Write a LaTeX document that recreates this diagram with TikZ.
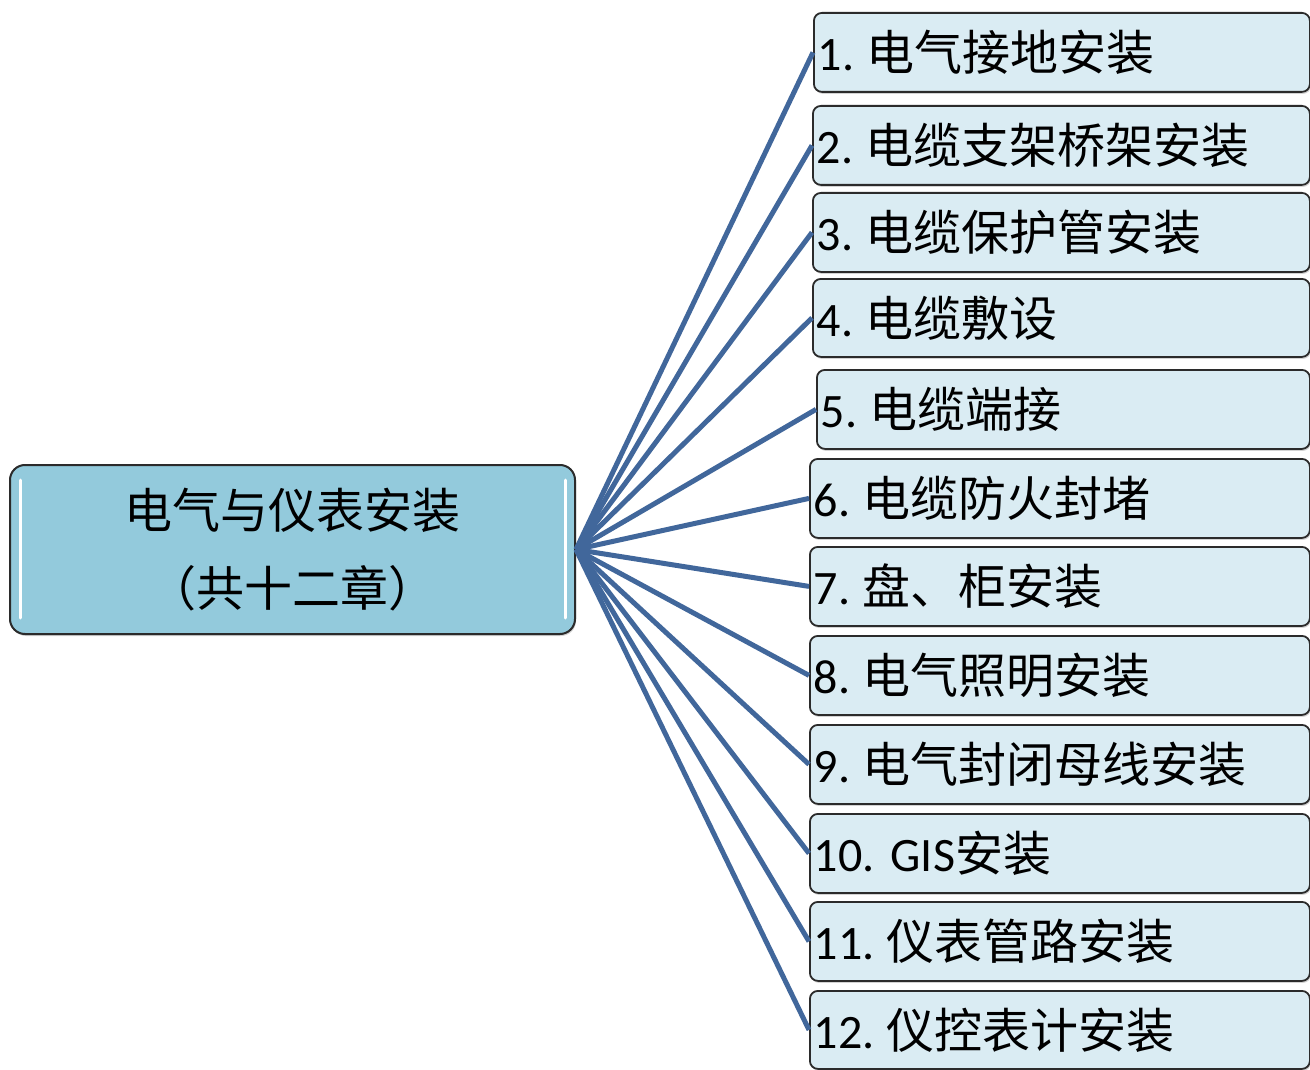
\documentclass[tikz,border=0pt]{standalone}
\usepackage{fontspec}
\setmainfont{Carlito}
\newfontfamily\cjk{Noto Sans CJK SC}
\usetikzlibrary{shadows}
\definecolor{connblue}{HTML}{41679B}
\definecolor{mainfill}{HTML}{93CADC}
\definecolor{itemfill}{HTML}{DAECF3}
\definecolor{edgegray}{HTML}{2B2B2B}
\newcommand\cjkgap{\hspace{12pt}}
\frenchspacing
\tikzset{
  mainbox/.style={draw=edgegray, line width=2pt, fill=mainfill, rounded corners=15pt,
    drop shadow={shadow xshift=1pt, shadow yshift=-2pt, opacity=0.35},
    font=\cjk\fontsize{48}{78}\selectfont, align=center, inner sep=0pt},
  itembox/.style={draw=edgegray, line width=1.8pt, fill=itemfill, rounded corners=8pt,
    drop shadow={shadow xshift=1pt, shadow yshift=-2pt, opacity=0.35},
    font=\frenchspacing\fontsize{48}{50}\selectfont, align=left, inner xsep=4pt, inner ysep=0pt},
  conn/.style={draw=connblue, line width=5pt},
  gleam/.style={draw=white, line width=3pt, line cap=round}
}
\begin{document}
\begin{tikzpicture}[x=1pt,y=-1pt]
\useasboundingbox (0,0) rectangle (1310,1070);
\node[mainbox, minimum width=565pt, minimum height=169pt] (main) at (292.5,549.5) {\raisebox{3pt}{电气与仪表安装}\\\raisebox{3pt}{（共十二章）}};
\draw[gleam] (20,480) -- (20,618);
\draw[gleam] (565,480) -- (565,618);
\foreach \n/\x/\t/\b/\txt in {
  1/813/12/91/{1.\cjkgap{\cjk 电气接地安装}},
  2/812/105/184/{2.\cjkgap{\cjk 电缆支架桥架安装}},
  3/812/192/271/{3.\cjkgap{\cjk 电缆保护管安装}},
  4/812/278/356/{4.\cjkgap{\cjk 电缆敷设}},
  5/816/369/448/{5.\cjkgap{\cjk 电缆端接}},
  6/809/458/537/{6.\cjkgap{\cjk 电缆防火封堵}},
  7/809/546/625/{7.\cjkgap{\cjk 盘、柜安装}},
  8/809/635/714/{8.\cjkgap{\cjk 电气照明安装}},
  9/809/724/803/{9.\cjkgap{\cjk 电气封闭母线安装}},
  10/809/813/892/{10. GIS{\cjk 安装}},
  11/809/901/980/{11.\cjkgap{\cjk 仪表管路安装}},
  12/809/990/1068/{12.\cjkgap{\cjk 仪控表计安装}}}{
  \pgfmathsetmacro\w{1309-\x-8}
  \pgfmathsetmacro\h{\b-\t}
  \node[itembox, text width=\w pt, minimum height=\h pt, anchor=north west] (b\n) at (\x,\t) {\raisebox{4pt}{\txt}};
}
\foreach \n in {1,...,12}{
  \draw[conn] (main.east) -- (b\n.west);
}
\end{tikzpicture}
\end{document}
